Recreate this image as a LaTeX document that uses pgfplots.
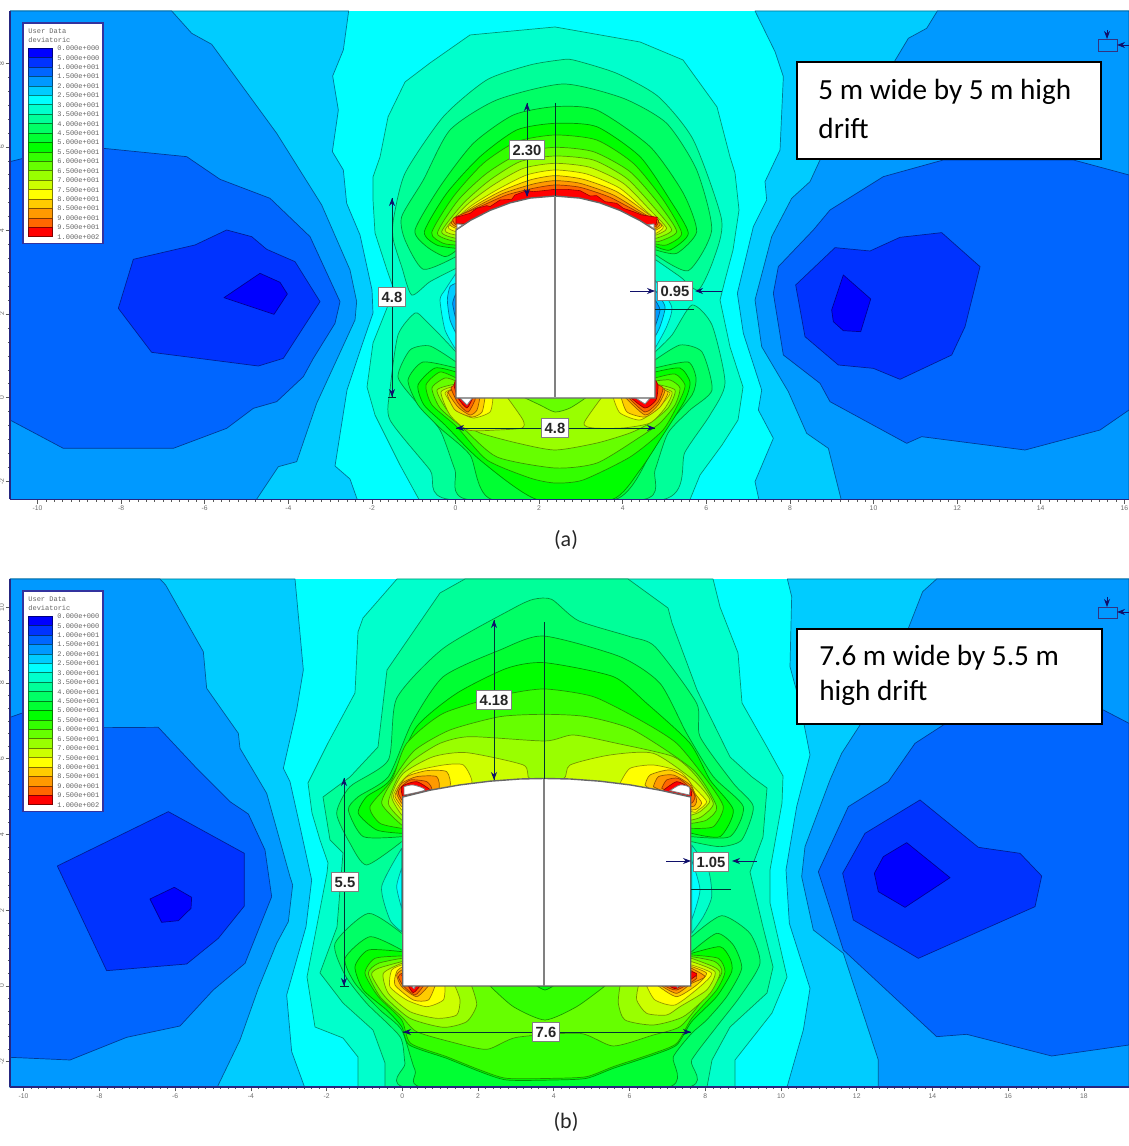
\documentclass[border=0pt]{standalone}
\usepackage{fontspec}
\setmainfont{Carlito}
\newfontfamily\dimf{Liberation Sans}
\newfontfamily\monof{Liberation Mono}
\usepackage{pgfplots}
\pgfplotsset{compat=1.18}
\usetikzlibrary{arrows.meta}
\definecolor{c1}{HTML}{0000FF}\definecolor{c2}{HTML}{0033FF}\definecolor{c3}{HTML}{0066FF}\definecolor{c4}{HTML}{0099FF}
\definecolor{c5}{HTML}{00CCFF}\definecolor{c6}{HTML}{00FFFF}\definecolor{c7}{HTML}{00FFCC}\definecolor{c8}{HTML}{00FF99}
\definecolor{c9}{HTML}{00FF66}\definecolor{c10}{HTML}{00FF33}\definecolor{c11}{HTML}{00FF00}\definecolor{c12}{HTML}{33FF00}
\definecolor{c13}{HTML}{66FF00}\definecolor{c14}{HTML}{99FF00}\definecolor{c15}{HTML}{CCFF00}\definecolor{c16}{HTML}{FFFF00}
\definecolor{c17}{HTML}{FFCC00}\definecolor{c18}{HTML}{FF9900}\definecolor{c19}{HTML}{FF6600}\definecolor{c20}{HTML}{FF0000}
\definecolor{dimc}{HTML}{10106A}
\pgfplotsset{
 lv/.style={fill=c#1,draw=c#1!58!black,line width=0.35pt,line join=round},
 lc/.style={fill=c#1,draw=c#1!58!black,line width=0.35pt,line join=round,smooth,tension=0.4},
 ZA/.style 2 args={x filter/.expression={(#1+x/3-455.5)/41.8},y filter/.expression={(397.7-#2-y/3)/41.8}},
 ZB/.style 2 args={x filter/.expression={(#1+x/3-402.3)/37.87},y filter/.expression={(986-#2-y/3)/37.87}},
 dimarrow/.style={draw=dimc,line width=0.4pt,-{Stealth[length=4pt,width=3pt]}},
 dimline/.style={draw=black!60!teal,line width=0.35pt},
 pocketwhite/.style={fill=white,draw=gray,line width=0.4pt},
 panel/.style={scale only axis,axis x line*=bottom,axis y line*=left,axis on top,
  axis line style={draw=black!50!blue!70!gray,line width=0.6pt,-},
  tick align=outside,major tick length=2.2pt,minor tick length=1.1pt,
  every tick/.style={draw=gray!70!black,line width=0.3pt},
  minor x tick num=9,minor y tick num=5,
  /pgf/number format/assume math mode=true,
  tick label style={font=\dimf\fontsize{3.4}{4}\selectfont,text=gray!85!black,inner sep=0.8pt},
  yticklabel style={rotate=90,anchor=south,inner sep=0.5pt},
 }
}
\newcommand\poly[2]{\addplot[#1] coordinates {#2} -- cycle;}
\newcommand\lin[2]{\addplot[#1] coordinates {#2};}
\newcommand\txt[3]{\addplot[draw=none] coordinates {#1} node[#2] {#3};}
\newcommand\ltxt[2]{\addplot[draw=none,LG] coordinates {#1} node[anchor=west,inner sep=0pt,font=\monof\fontsize{3.5}{4}\selectfont,text=gray!80!black] {#2};}
\newcommand\dimlabel[2]{\txt{#1}{fill=white,draw=gray,line width=0.5pt,inner xsep=1.4pt,inner ysep=2.2pt,font=\dimf\bfseries\fontsize{7.4}{8}\selectfont,text=black!85}{#2}}
\newcommand\sw[3]{\poly{LG,fill=c#3,draw=c#3!50!black,line width=0.35pt}{(28,#1) (52,#1) (52,#2) (28,#2)}}
\newcommand\lb[2]{\ltxt{(57,#1)}{#2}}
\newcommand\LegendBox{%
 \poly{LG,fill=white,draw=black!30!blue!60!gray,line width=0.6pt}{(23,23) (103,23) (103,243.5) (23,243.5)}
 \ltxt{(28,31.7)}{User Data}
 \ltxt{(28,40.4)}{deviatoric}
 \sw{48.3}{57.7}{1}\sw{57.7}{67.1}{2}\sw{67.1}{76.6}{3}\sw{76.6}{86.0}{4}\sw{86.0}{95.4}{5}
 \sw{95.4}{104.8}{6}\sw{104.8}{114.2}{7}\sw{114.2}{123.7}{8}\sw{123.7}{133.1}{9}\sw{133.1}{142.5}{10}
 \sw{142.5}{151.9}{11}\sw{151.9}{161.3}{12}\sw{161.3}{170.8}{13}\sw{170.8}{180.2}{14}\sw{180.2}{189.6}{15}
 \sw{189.6}{199.0}{16}\sw{199.0}{208.4}{17}\sw{208.4}{217.9}{18}\sw{217.9}{227.3}{19}\sw{227.3}{236.7}{20}
 \lb{48.7}{0.000e+000}\lb{57.9}{5.000e+000}\lb{67.2}{1.000e+001}\lb{76.7}{1.500e+001}\lb{86.2}{2.000e+001}
 \lb{95.7}{2.500e+001}\lb{105.0}{3.000e+001}\lb{114.3}{3.500e+001}\lb{123.8}{4.000e+001}\lb{133.2}{4.500e+001}
 \lb{142.7}{5.000e+001}\lb{152.0}{5.500e+001}\lb{161.3}{6.000e+001}\lb{170.8}{6.500e+001}\lb{180.3}{7.000e+001}
 \lb{189.8}{7.500e+001}\lb{199.0}{8.000e+001}\lb{208.5}{8.500e+001}\lb{218.0}{9.000e+001}\lb{227.5}{9.500e+001}
 \lb{237.0}{1.000e+002}
}
\begin{document}
\begin{tikzpicture}[x=1pt,y=1pt]
\path[use as bounding box] (0,0) rectangle (564.5pt,573pt);
% ---------------- panel (a) ----------------
\begin{axis}[panel,at={(5pt,323.25pt)},anchor=south west,width=559.5pt,height=244.25pt,
 xmin=-10.658,xmax=16.112,ymin=-2.435,ymax=9.251,
 xtick={-10,-8,...,16},ytick={-2,0,...,8},
 x filter/.expression={(x-455.5)/41.8},y filter/.expression={(397.7-y)/41.8},
 /pgfplots/LG/.style={}]
\poly{fill=c6,draw=none}{(10,11) (1129,11) (1129,499.5) (10,499.5)}
% left low-stress zone
\poly{lv=5,ZA={0}{120}}{(1046,-327) (1030,-210) (998,-132) (1015,-30) (997,95) (1030,150) (1040,250) (1080,345) (1116,510) (1119,579) (1086,675) (1041,810) (1005,1038) (1050,1077) (1074,1145) (30,1145) (30,-327)}
\poly{lv=4,ZA={0}{120}}{(515,-327) (575,-260) (635,-227) (830,40) (965,255) (1050,450) (1070,545) (1065,600) (950,850) (890,1025) (835,1040) (765,1145) (30,1145) (30,-327)}
\poly{lv=3,ZA={0}{120}}{(30,125) (70,115) (310,85) (560,110) (660,178) (810,235) (930,350) (1020,545) (1005,610) (940,715) (910,770) (830,845) (760,865) (680,925) (520,985) (190,985) (30,900)}
\poly{lv=2,ZA={0}{120}}{(400,418) (585,375) (680,330) (755,350) (800,388) (885,425) (960,545) (850,715) (775,738) (455,697) (355,565)}
\poly{lv=1,ZA={0}{120}}{(672,533) (780,460) (840,487) (862,522) (822,583)}
% right low-stress zone
\poly{lv=5,ZA={730}{0}}{(75,33) (135,155) (160,230) (150,450) (105,545) (110,600) (70,680) (22,880) (40,1000) (95,1170) (85,1230) (130,1315) (75,1445) (88,1505) (1197,1505) (1197,33)}
\poly{lv=4,ZA={730}{0}}{(622,33) (590,85) (535,115) (490,190) (270,480) (240,545) (185,595) (125,710) (75,900) (95,1040) (175,1175) (230,1300) (295,1345) (335,1505) (1197,1505) (1197,33)}
\poly{lv=3,ZA={730}{0}}{(640,480) (460,530) (300,630) (250,690) (145,800) (130,880) (160,1065) (270,1150) (300,1205) (530,1330) (575,1310) (885,1350) (1110,1290) (1197,1230) (1197,525) (1030,480)}
\poly{lv=2,ZA={730}{0}}{(315,743) (420,753) (510,712) (635,698) (750,800) (705,980) (665,1065) (510,1138) (430,1105) (325,1095) (225,1010) (197,855)}
\poly{lv=1,ZA={730}{0}}{(340,825) (422,897) (392,995) (340,992) (310,965) (305,930)}
% central zone
\poly{lv=7}{(419,499.5) (400,465) (375,415) (367,387) (373,343) (385,313) (394,290) (387,270) (375,233) (373,200) (373,177) (380,157) (388,117) (405,82) (430,63) (470,35) (555,27) (640,42) (683,60) (717,107) (730,157) (735,173) (739,210) (733,250) (725,280) (720,300) (730,347) (743,387) (738,420) (722,445) (700,475) (690,499.5)}
% wall pockets
\poly{lc=6,ZA={330}{280}}{(378,-20) (345,30) (330,60) (345,150) (378,210)}
\poly{lc=5,ZA={330}{280}}{(378,10) (360,20) (352,60) (360,120) (378,160)}
\poly{lc=4,ZA={330}{280}}{(378,40) (368,70) (378,120)}
\poly{lc=6,ZA={330}{280}}{(975,0) (1025,80) (1010,140) (975,205)}
\poly{lc=5,ZA={330}{280}}{(975,30) (1005,80) (990,140) (975,170)}
\poly{lc=4,ZA={330}{280}}{(975,60) (990,90) (975,140)}
% bottom lobe
\poly{lc=8}{(456,352) (440,335) (425,320) (415,313) (398,335) (390,390) (390,420) (430,470) (450,499.5) (663,499.5) (685,452) (710,415) (725,383) (712,325) (692,305) (672,335) (655,352)}
\poly{lc=9}{(456,362) (430,346) (410,350) (398,377) (417,403) (440,430) (455,470) (468,499.5) (643,499.5) (655,470) (668,433) (690,410) (712,390) (702,352) (680,345) (655,360)}
\poly{lc=10}{(456,368) (423,362) (408,380) (418,405) (440,428) (470,455) (492,499.5) (615,499.5) (650,455) (668,425) (692,395) (696,378) (688,362) (655,368)}
\poly{lc=11}{(456,372) (435,368) (418,385) (424,405) (445,425) (480,460) (537,499.5) (612,499.5) (640,470) (663,435) (685,400) (690,382) (680,368) (655,372)}
\poly{lc=12}{(456,378) (440,372) (426,385) (432,405) (457,427) (487,460) (530,478) (555,483) (583,480) (630,457) (663,430) (680,400) (685,385) (675,374) (655,378)}
\poly{lc=13}{(456,381) (445,378) (432,388) (440,408) (463,428) (497,457) (555,468) (597,463) (640,437) (660,423) (675,405) (680,388) (670,380) (655,381)}
\poly{lc=14}{(456,384) (437,390) (447,410) (463,423) (480,433) (517,443) (555,450) (597,443) (630,433) (650,423) (668,408) (675,390) (655,384)}
\poly{lc=13}{(523,397) (540,405) (555,412) (570,408) (587,397)}
\poly{lc=15}{(456,386) (441,392) (450,415) (468,430) (497,430) (522,428) (523,420) (507,397)}
\poly{lc=15}{(602,397) (584,423) (593,428) (623,428) (650,423) (665,408) (672,392) (655,386)}
\poly{lc=16}{(456,388) (445,393) (457,410) (473,418) (490,412) (493,397)}
\poly{lc=16}{(613,397) (620,413) (640,420) (658,408) (670,393) (655,388)}
\poly{lc=17}{(456,389) (447,393) (455,410) (472,417) (482,412) (485,397)}
\poly{lc=17}{(621,397) (627,412) (645,417) (660,407) (668,392) (655,389)}
\poly{lc=18}{(456,390) (448,392) (458,407) (470,415) (477,410) (480,397)}
\poly{lc=18}{(625,397) (645,415) (658,405) (665,390) (655,388)}
\poly{lc=19}{(456,385) (451,388) (458,403) (468,412) (475,400) (475,397)}
\poly{lc=19}{(628,397) (645,412) (658,402) (663,388) (655,384)}
\poly{lc=20}{(456,380) (454,385) (458,398) (467,408) (473,397)}
\poly{lc=20}{(630,397) (645,408) (656,400) (658,385) (655,380)}
% top lobe
\poly{lc=8,ZA={330}{60}}{(378,625) (300,665) (245,705) (215,620) (190,540) (190,480) (225,340) (340,170) (470,60) (600,15) (690,0) (730,0) (860,40) (985,110) (1090,240) (1175,480) (1150,600) (1105,690) (1050,650) (978,600)}
\poly{lc=9,ZA={330}{60}}{(378,590) (280,628) (225,540) (215,470) (280,360) (360,210) (500,120) (700,72) (880,115) (1010,190) (1100,330) (1145,510) (1075,632) (978,585)}
\poly{lc=10,ZA={330}{60}}{(378,572) (345,590) (290,560) (255,510) (330,380) (430,250) (550,165) (675,140) (800,150) (960,260) (1060,400) (1100,515) (1040,580) (978,570)}
\poly{lc=11,ZA={330}{60}}{(378,565) (320,555) (283,515) (350,400) (450,290) (560,210) (675,190) (800,200) (930,290) (1020,420) (1075,520) (1020,570) (978,560)}
\poly{lc=12,ZA={330}{60}}{(378,555) (340,550) (305,518) (370,410) (460,310) (560,245) (675,225) (800,240) (910,310) (1000,420) (1055,520) (1010,555) (978,552)}
\poly{lc=13,ZA={330}{60}}{(378,545) (322,520) (385,420) (470,340) (570,280) (675,262) (790,275) (900,335) (985,430) (1040,515) (985,545)}
\poly{lc=14,ZA={330}{60}}{(378,535) (335,515) (400,430) (480,360) (570,305) (675,288) (790,300) (890,355) (970,440) (1025,510) (978,535)}
\poly{lc=15,ZA={330}{60}}{(378,525) (345,510) (410,435) (490,375) (580,325) (675,310) (780,322) (880,370) (960,450) (1010,505) (978,525)}
\poly{lc=16,ZA={330}{60}}{(378,515) (355,500) (420,440) (500,390) (590,345) (675,330) (770,342) (870,385) (950,455) (1000,500) (978,520)}
\poly{lc=17,ZA={330}{60}}{(378,505) (360,490) (430,440) (510,395) (600,360) (675,347) (760,358) (860,395) (945,455) (995,495) (978,510)}
\poly{lc=18,ZA={330}{60}}{(378,500) (365,485) (440,440) (520,400) (610,372) (675,362) (750,370) (850,405) (940,460) (990,490) (978,505)}
\poly{lc=19,ZA={330}{60}}{(378,495) (370,475) (450,440) (530,405) (610,385) (675,375) (750,382) (840,412) (935,462) (985,480) (978,500)}
\poly{fill=c20,draw=c20!60!black,line width=0.3pt,ZA={330}{60}}{(378,490) (378,472) (420,460) (440,445) (470,437) (480,440) (510,420) (545,418) (555,405) (590,392) (610,395) (640,392) (675,388) (710,388) (750,392) (780,408) (800,407) (825,425) (860,430) (880,445) (910,455) (935,465) (982,472) (978,495)}
% corner gaps and drift
\poly{pocketwhite}{(459,397) (473,397) (467,405)}
\poly{pocketwhite}{(634,397) (651,397) (645,404)}
\poly{fill=white,draw=black!60,line width=0.7pt}{(456,398) (456,230) (470,220.6) (490,210.4) (510,202.9) (530,198.1) (555,196) (580,198.1) (600,202.9) (620,210.4) (640,220.6) (655,230) (655,398)}
\poly{pocketwhite}{(457,229) (457,224) (463,224.5)}
\poly{pocketwhite}{(654,229) (654,224) (648,224.5)}
\lin{draw=gray,line width=0.7pt}{(555,196) (555,397)}
\lin{draw=black!60!teal,line width=0.35pt}{(555,103) (555,196)}
% dimensions
\lin{dimline}{(527,103) (527,196)}
\lin{dimarrow}{(527,112) (527,103)}
\lin{dimarrow}{(527,187) (527,197)}
\dimlabel{(527,150)}{2.30}
\lin{dimline}{(392,198) (392,397)}
\lin{dimarrow}{(392,207) (392,198)}
\lin{dimarrow}{(392,388) (392,397)}
\lin{dimline}{(388,397) (396,397)}
\dimlabel{(392,297)}{4.8}
\lin{dimline}{(456,428) (655,428)}
\lin{dimarrow}{(466,428) (456,428)}
\lin{dimarrow}{(645,428) (655,428)}
\dimlabel{(555,428)}{4.8}
\lin{dimarrow}{(630,291) (655,291)}
\lin{dimarrow}{(722,291) (695,291)}
\lin{dimline}{(655,309) (694,309)}
\dimlabel{(675,291)}{0.95}
% restraint icon
\poly{fill=c4,draw=black!50!blue!60!gray,line width=0.35pt}{(1098,39) (1117,39) (1117,51) (1098,51)}
\lin{dimarrow}{(1107,30) (1107,39)}
\lin{dimarrow}{(1129,45) (1117,45)}
\LegendBox
\poly{fill=white,draw=black,line width=1.1pt}{(797,62) (1101,62) (1101,159) (797,159)}
\txt{(818,92)}{anchor=west,inner sep=0pt,font=\fontsize{14.6}{18}\selectfont}{5 m wide by 5 m high}
\txt{(818,128)}{anchor=west,inner sep=0pt,font=\fontsize{14.6}{18}\selectfont}{drift}
\end{axis}
% ---------------- panel (b) ----------------
\begin{axis}[panel,at={(5pt,29.5pt)},anchor=south west,width=559.5pt,height=254pt,
 xmin=-10.359,xmax=19.189,ymin=-2.667,ymax=10.747,
 xtick={-10,-8,...,18},ytick={-2,0,...,10},
 x filter/.expression={(x-402.3)/37.87},y filter/.expression={(986-y)/37.87},
 /pgfplots/LG/.style={y filter/.expression={(986-568-y)/37.87}}]
\poly{fill=c6,draw=none}{(10,579) (1129,579) (1129,1087) (10,1087)}
% left low-stress zone
\poly{lv=5,ZB={0}{680}}{(885,-303) (910,-30) (905,0) (890,90) (850,265) (870,305) (900,440) (935,600) (918,740) (860,945) (875,1115) (915,1225) (30,1225) (30,-303)}
\poly{lv=4,ZB={0}{680}}{(480,-303) (497,-285) (610,-85) (615,-30) (620,25) (715,160) (720,205) (800,340) (870,590) (878,615) (865,725) (830,790) (775,925) (720,1080) (650,1225) (30,1225) (30,-303)}
\poly{lv=3,ZB={0}{680}}{(30,112) (70,98) (310,143) (475,142) (590,265) (690,365) (745,402) (795,510) (815,650) (735,850) (640,930) (540,1038) (380,1072) (210,1140) (30,1132)}
\poly{lv=2,ZB={0}{680}}{(172,558) (505,395) (733,520) (733,678) (655,775) (560,852) (320,872)}
\poly{lv=1,ZB={0}{680}}{(450,657) (523,622) (575,652) (573,685) (535,722) (485,727)}
% right low-stress zone
\poly{lv=5,ZB={730}{570}}{(172,27) (185,80) (180,290) (210,400) (240,555) (200,710) (168,900) (178,1060) (240,1255) (220,1380) (170,1555) (1197,1555) (1197,27)}
\poly{lv=4,ZB={730}{570}}{(620,27) (578,65) (535,175) (390,465) (335,550) (300,630) (225,830) (215,920) (250,1080) (340,1150) (445,1470) (445,1555) (1197,1555) (1197,27)}
\poly{lv=3,ZB={730}{570}}{(900,400) (640,465) (555,520) (475,635) (355,710) (265,905) (340,1140) (620,1400) (710,1393) (965,1458) (1197,1425) (1197,460) (1120,420)}
\poly{lv=2,ZB={730}{570}}{(570,690) (745,832) (870,850) (935,918) (915,1010) (565,1165) (370,1050) (338,910) (405,790)}
\poly{lv=1,ZB={730}{570}}{(530,818) (660,923) (525,1012) (445,965) (433,910) (460,860)}
% central zone
\poly{lv=7}{(397,579) (363,618) (358,632) (355,693) (328,743) (308,783) (312,813) (320,840) (328,863) (327,873) (307,977) (315,1027) (343,1038) (358,1057) (358,1087) (735,1087) (735,1060) (772,1013) (787,977) (770,903) (770,870) (782,803) (783,776) (767,747) (742,703) (738,653) (720,607) (713,579)}
\poly{lv=8}{(465,579) (440,593) (387,670) (378,747) (350,777) (323,797) (330,840) (343,853) (337,927) (320,973) (343,1003) (373,1030) (385,1063) (385,1087) (707,1087) (712,1060) (730,1027) (767,993) (773,967) (762,923) (750,872) (763,837) (767,788) (752,777) (730,757) (697,690) (672,623) (668,608) (628,579)}
% wall pockets
\poly{lc=7,ZB={300}{830}}{(305,55) (245,170) (270,270) (305,305)}
\poly{lc=6,ZB={300}{830}}{(305,115) (290,170) (305,235)}
\poly{lc=7,ZB={300}{830}}{(1175,45) (1225,120) (1235,200) (1210,260) (1175,310)}
\poly{lc=6,ZB={300}{830}}{(1175,90) (1200,180) (1175,270)}
% bottom lobe
\poly{lc=9,ZB={300}{830}}{(305,310) (205,250) (105,340) (135,435) (200,520) (300,620) (315,700) (335,775) (1145,775) (1175,690) (1250,590) (1320,500) (1380,400) (1350,310) (1265,257) (1175,320)}
\poly{lc=10,ZB={300}{830}}{(305,360) (210,320) (135,385) (165,460) (240,540) (305,600) (345,720) (390,775) (1090,775) (1120,680) (1175,610) (1220,570) (1280,500) (1325,415) (1300,345) (1250,310) (1175,365)}
\poly{lc=11,ZB={300}{830}}{(305,365) (205,360) (165,410) (190,480) (260,540) (305,590) (328,645) (440,685) (540,725) (620,750) (760,750) (860,745) (940,715) (1060,675) (1130,645) (1175,575) (1250,500) (1295,425) (1290,385) (1260,350) (1175,370)}
\poly{lc=12,ZB={300}{830}}{(305,378) (225,385) (195,430) (235,500) (305,570) (332,640) (440,680) (540,720) (620,745) (760,745) (860,740) (940,710) (1060,670) (1130,640) (1175,565) (1250,480) (1275,425) (1255,385) (1175,375)}
\poly{lc=13,ZB={300}{830}}{(305,385) (235,400) (205,430) (240,500) (305,560) (350,605) (450,635) (560,658) (650,622) (840,610) (940,648) (1060,615) (1140,590) (1200,520) (1265,430) (1245,395) (1175,380)}
\poly{lc=14,ZB={300}{830}}{(305,395) (235,415) (215,435) (255,500) (330,565) (430,592) (500,575) (530,525) (515,468)}
\poly{lc=14,ZB={300}{830}}{(960,468) (955,520) (975,570) (1060,585) (1150,560) (1230,490) (1260,430) (1240,410) (1175,385)}
\poly{lc=12,ZB={300}{830}}{(570,468) (640,530) (735,570) (830,530) (915,468)}
\poly{lc=11,ZB={300}{830}}{(710,468) (735,480) (760,468)}
\poly{lc=15,ZB={300}{830}}{(305,400) (250,430) (265,490) (330,545) (410,565) (470,555) (480,510) (465,468)}
\poly{lc=15,ZB={300}{830}}{(1015,468) (1010,510) (1040,550) (1100,555) (1140,530) (1220,480) (1245,425) (1175,395)}
\poly{lc=16,ZB={300}{830}}{(305,405) (275,420) (270,470) (320,510) (380,530) (430,510) (435,468)}
\poly{lc=16,ZB={300}{830}}{(1040,468) (1065,510) (1125,525) (1200,470) (1235,430) (1175,405)}
\poly{lc=17,ZB={300}{830}}{(305,412) (290,425) (285,465) (340,510) (385,510) (405,468)}
\poly{lc=17,ZB={300}{830}}{(1075,468) (1130,500) (1190,465) (1220,430) (1175,410)}
\poly{lc=18,ZB={300}{830}}{(305,420) (290,435) (305,470) (350,500) (385,468)}
\poly{lc=18,ZB={300}{830}}{(1085,468) (1130,490) (1175,460) (1215,440) (1175,415)}
\poly{lc=19,ZB={300}{830}}{(305,430) (295,440) (310,468) (345,495) (370,468)}
\poly{lc=19,ZB={300}{830}}{(1095,468) (1130,480) (1190,445) (1175,422)}
\poly{lc=20,ZB={300}{830}}{(305,435) (325,468) (340,488) (360,468)}
\poly{lc=20,ZB={300}{830}}{(1110,468) (1130,475) (1190,435) (1175,425)}
% top lobe
\poly{lc=9,ZB={300}{580}}{(305,785) (200,855) (150,790) (110,700) (150,620) (265,540) (290,355) (430,205) (640,85) (700,58) (755,58) (835,122) (990,170) (1065,200) (1190,370) (1200,470) (1300,610) (1360,680) (1325,780) (1260,800) (1175,785)}
\poly{lc=10,ZB={300}{580}}{(305,770) (190,770) (145,690) (175,650) (265,590) (335,430) (430,290) (600,210) (730,168) (960,230) (1080,310) (1160,460) (1240,590) (1330,680) (1290,770) (1175,770)}
\poly{lc=11,ZB={300}{580}}{(305,760) (230,750) (175,700) (200,650) (270,600) (350,440) (470,340) (620,265) (733,248) (940,290) (1040,370) (1170,490) (1230,600) (1300,690) (1260,770) (1175,760)}
\poly{lc=12,ZB={300}{580}}{(305,745) (240,730) (210,680) (275,600) (320,490) (430,400) (610,345) (733,327) (880,350) (1020,420) (1130,490) (1220,600) (1270,680) (1240,740) (1175,745)}
\poly{lc=13,ZB={300}{580}}{(305,735) (245,670) (285,590) (345,510) (450,450) (600,410) (733,403) (860,410) (1000,450) (1180,570) (1250,680) (1220,720) (1175,730)}
\poly{lc=14,ZB={300}{580}}{(305,720) (265,670) (295,590) (340,540) (420,490) (510,470) (735,483) (820,465) (950,490) (1120,530) (1190,590) (1240,670) (1205,710) (1175,720)}
\poly{lc=15,ZB={300}{580}}{(305,705) (275,650) (310,580) (400,530) (500,518) (670,555) (690,597) (790,597) (810,555) (930,525) (1060,520) (1180,600) (1230,660) (1200,695) (1175,705)}
\poly{lc=16,ZB={300}{580}}{(305,690) (280,650) (300,610) (340,575) (430,555) (490,555) (515,610) (440,640)}
\poly{lc=16,ZB={300}{580}}{(960,610) (990,565) (1060,555) (1140,575) (1180,620) (1220,665) (1195,690) (1175,695) (1040,640)}
\poly{lc=17,ZB={300}{580}}{(305,680) (285,650) (295,625) (320,590) (380,572) (440,575) (450,620) (400,640)}
\poly{lc=17,ZB={300}{580}}{(1035,615) (1050,585) (1110,570) (1165,600) (1185,640) (1205,670) (1175,690) (1060,640)}
\poly{lc=18,ZB={300}{580}}{(305,670) (290,640) (305,610) (350,590) (410,590) (415,630) (350,645)}
\poly{lc=18,ZB={300}{580}}{(1060,620) (1075,590) (1120,585) (1170,615) (1190,660) (1175,680) (1100,640)}
\poly{lc=19,ZB={300}{580}}{(305,660) (295,640) (300,625) (330,600) (380,605) (395,630) (340,640)}
\poly{lc=19,ZB={300}{580}}{(1085,625) (1100,600) (1135,595) (1172,625) (1185,650) (1172,670) (1120,640)}
\poly{lc=20,ZB={300}{580}}{(308,650) (305,620) (350,605) (395,635) (340,640)}
\poly{lc=20,ZB={300}{580}}{(1085,635) (1130,605) (1170,625) (1172,650) (1120,640)}
\poly{pocketwhite,smooth,ZB={300}{580}}{(312,620) (340,615) (375,630) (312,645)}
\poly{pocketwhite,smooth,ZB={300}{580}}{(1110,632) (1140,615) (1168,622) (1168,645)}
\poly{pocketwhite,ZB={300}{830}}{(333,466) (348,466) (342,476)}
\poly{pocketwhite,ZB={300}{830}}{(1125,466) (1140,466) (1133,472)}
% drift
\poly{fill=white,draw=black!60,line width=0.7pt}{(402.7,986) (402.7,797) (430,790.2) (460,784.9) (490,781.2) (520,779) (544.7,778.5) (570,779) (600,781.2) (630,784.9) (660,790.2) (690.7,797) (690.7,986)}
\lin{draw=gray,line width=0.7pt}{(544,779) (544,986)}
\lin{draw=black!60!teal,line width=0.35pt}{(544,622) (544,779)}
% dimensions
\lin{dimline}{(494,620) (494,780)}
\lin{dimarrow}{(494,630) (494,620)}
\lin{dimarrow}{(494,770) (494,780)}
\dimlabel{(494,700)}{4.18}
\lin{dimline}{(344,778) (344,986)}
\lin{dimarrow}{(344,788) (344,778)}
\lin{dimarrow}{(344,976) (344,986)}
\lin{dimline}{(340,986) (349,986)}
\dimlabel{(345,882)}{5.5}
\lin{dimline}{(403,1032) (691,1032)}
\lin{dimarrow}{(413,1032) (403,1032)}
\lin{dimarrow}{(681,1032) (691,1032)}
\dimlabel{(546,1032)}{7.6}
\lin{dimarrow}{(666,861) (691,861)}
\lin{dimarrow}{(757,861) (732,861)}
\lin{dimline}{(691,889) (731,889)}
\dimlabel{(711,862)}{1.05}
\poly{fill=c4,draw=black!50!blue!60!gray,line width=0.35pt}{(1098,607) (1117,607) (1117,618) (1098,618)}
\lin{dimarrow}{(1107,597) (1107,607)}
\lin{dimarrow}{(1129,612) (1117,612)}
\LegendBox
\poly{fill=white,draw=black,line width=1.1pt}{(797,629) (1102,629) (1102,724) (797,724)}
\txt{(819,658)}{anchor=west,inner sep=0pt,font=\fontsize{14.6}{18}\selectfont}{7.6 m wide by 5.5 m}
\txt{(819,693)}{anchor=west,inner sep=0pt,font=\fontsize{14.6}{18}\selectfont}{high drift}
\end{axis}
\node[font=\fontsize{11}{13}\selectfont,text=black!85] at (283pt,303pt) {(a)};
\node[font=\fontsize{11}{13}\selectfont,text=black!85] at (283pt,12pt) {(b)};
\end{tikzpicture}
\end{document}
